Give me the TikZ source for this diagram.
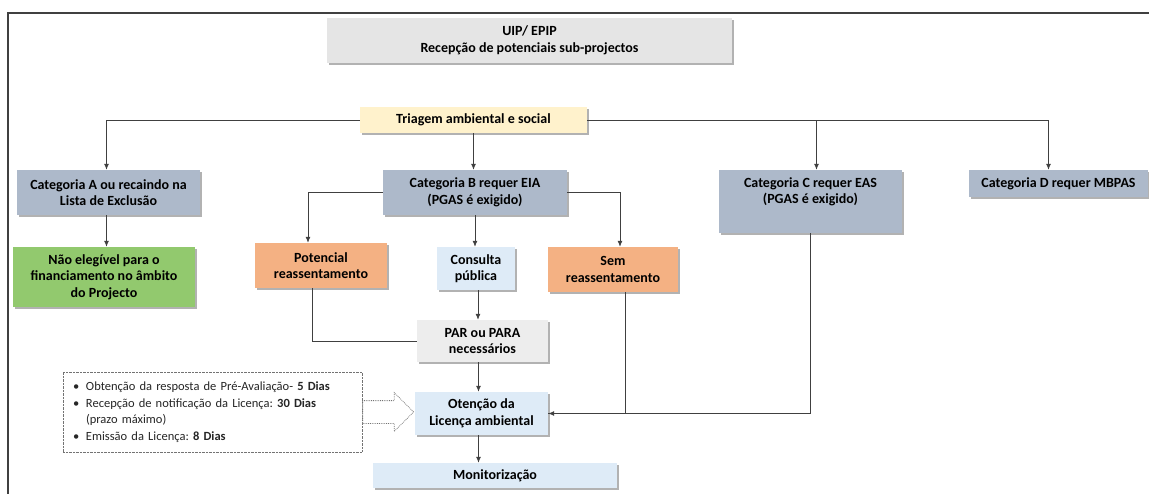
\documentclass[tikz,border=0pt]{standalone}
\usepackage{fontspec}
\setmainfont{Carlito}
\usetikzlibrary{positioning, arrows.meta, shapes.arrows, shadows}
\frenchspacing

\definecolor{uipgray}{HTML}{E5E5E5}
\definecolor{pargray}{HTML}{EDEDED}
\definecolor{triyellow}{HTML}{FFF2CC}
\definecolor{catblue}{HTML}{ADB9CA}
\definecolor{okgreen}{HTML}{92C96E}
\definecolor{resorange}{HTML}{F4B183}
\definecolor{paleblue}{HTML}{DEEBF7}

\newcommand{\notebullet}{\makebox[13pt][l]{\textbullet}}

\begin{document}
\begin{tikzpicture}[
  x=1pt, y=-1pt,
  font=\fontsize{14}{16.5}\selectfont\bfseries,
  box/.style={rectangle, align=center, inner sep=2pt, text=black,
              drop shadow={shadow xshift=2pt, shadow yshift=-2pt,
                           opacity=0.3, fill=black}},
  plain/.style={box, fill=uipgray},
  triage/.style={box, fill=triyellow},
  cat/.style={box, fill=catblue},
  reject/.style={box, fill=okgreen},
  resettle/.style={box, fill=resorange},
  stage/.style={box, fill=paleblue},
  notes/.style={rectangle, draw=black!55, densely dotted, fill=white, align=left,
                text width=279pt, inner xsep=10pt, minimum height=80pt,
                font=\fontsize{12.5}{16.5}\selectfont, text=black!85},
  hollow/.style={single arrow, draw=black!55, densely dotted, fill=white,
                 line width=0.8pt, inner sep=11pt, single arrow head extend=8pt,
                 minimum height=51pt},
  arr/.style={-{Latex[length=6pt,width=5pt]}, draw=black!75, line width=0.8pt},
  link/.style={draw=black!75, line width=0.8pt}
]
\useasboundingbox (0,0) rectangle (1149,494);
\draw[black!75, line width=1.2pt] (8,494) -- (8,13) -- (1149,13);

% top
\node[plain, minimum width=405pt, minimum height=45pt] (uip) at (529.5,40.5)
  {UIP/ EPIP\\Recepção de potenciais sub-projectos};
\node[triage, minimum width=227pt, minimum height=26pt] (screen) at (473.5,120)
  {Triagem ambiental e social};

% categories
\node[cat, minimum width=183pt, minimum height=45pt] (catA) at (108.5,192.5)
  {Categoria A ou recaindo na\\Lista de Exclusão};
\node[cat, minimum width=184pt, minimum height=45pt] (catB) at (475,192.5)
  {Categoria B requer EIA\\(PGAS é exigido)};
\node[cat, minimum width=183pt, minimum height=63pt] (catC) at (810.5,201.5)
  {Categoria C requer EAS\\(PGAS é exigido)\\\strut};
\node[cat, minimum width=179pt, minimum height=27pt] (catD) at (1058.5,183.5)
  {Categoria D requer MBPAS};

% second row
\node[reject, minimum width=182pt, minimum height=60pt] (noelig) at (104,277)
  {Não elegível para o\\financiamento no âmbito\\do Projecto};
\node[resettle, minimum width=132pt, minimum height=45pt] (potres) at (321,265.5)
  {Potencial\\reassentamento};
\node[stage, minimum width=78pt, minimum height=43pt] (consult) at (476,268.5)
  {Consulta\\pública};
\node[resettle, minimum width=130pt, minimum height=45pt] (nores) at (613,269.5)
  {Sem\\reassentamento};

% lower chain
\node[plain, fill=pargray, minimum width=131pt, minimum height=42pt] (par) at (482.5,341)
  {PAR ou PARA\\necessários};
\node[stage, minimum width=133pt, minimum height=43pt] (licence) at (481.5,413.5)
  {Otenção da\\Licença ambiental};
\node[stage, minimum width=244pt, minimum height=25pt] (monit) at (495,475.5)
  {Monitorização};

% deadlines
\node[notes] (deadlines) at (212.5,412)
  {\notebullet Obtenção da resposta de Pré-Avaliação- \textbf{5 Dias}\\
   \notebullet Recepção de notificação da Licença: \textbf{30 Dias}\\
   \hspace*{13pt}(prazo máximo)\\
   \notebullet Emissão da Licença: \textbf{8 Dias}};
\node[hollow, anchor=tail] (push) at (deadlines.east) {};

% connectors
\draw[arr] (screen.west) -| ([xshift=-2pt]catA.north);
\draw[arr] (screen.east) -| ([xshift=6pt]catC.north);
\draw[arr] (screen.east) -| ([xshift=-10pt]catD.north);
\draw[arr] (screen.south) -- (screen.south |- catB.north);
\draw[arr] ([xshift=-2pt]catA.south) -- ([xshift=-2pt]catA.south |- noelig.north);
\draw[arr] (catB.west) -| ([xshift=-13pt]potres.north);
\draw[arr] (catB.east) -| ([xshift=7pt]nores.north);
\draw[arr] (catB.south) -- (catB.south |- consult.north);
\draw[arr] ([xshift=2pt]consult.south) -- ([xshift=2pt]consult.south |- par.north);
\draw[link] ([xshift=-9pt]potres.south) |- (par.west);
\draw[arr] ([xshift=-4pt]par.south) -- ([xshift=-3pt]licence.north);
\draw[arr] ([xshift=-3pt]licence.south) -- ([xshift=-3pt]licence.south |- monit.north);
\draw[arr] (catC.south) |- (licence.east);
\draw[link] ([xshift=12pt]nores.south) |- (licence.east);
\end{tikzpicture}
\end{document}
